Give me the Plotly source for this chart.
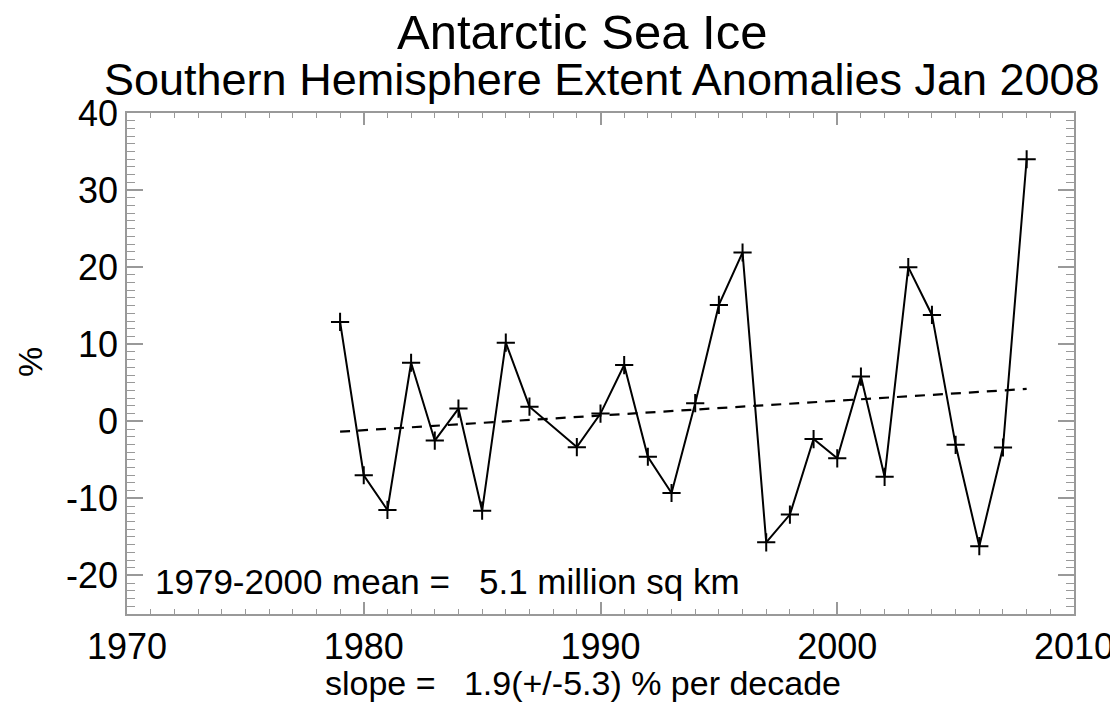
import plotly.graph_objects as go

years = [1979, 1980, 1981, 1982, 1983, 1984, 1985, 1986, 1987, 1989, 1990,
         1991, 1992, 1993, 1994, 1995, 1996, 1997, 1998, 1999, 2000,
         2001, 2002, 2003, 2004, 2005, 2006, 2007, 2008]
anomaly = [12.9, -7.0, -11.5, 7.6, -2.5, 1.65, -11.6, 10.2, 1.9, -3.35, 1.0,
           7.3, -4.6, -9.3, 2.35, 15.1, 21.9, -15.7, -12.1, -2.3, -4.8,
           5.8, -7.2, 20.0, 13.8, -3.05, -16.2, -3.4, 34.0]
trend_years = [1979, 2008]
trend_values = [-1.35, 4.2]

x_ticks = [1970, 1980, 1990, 2000, 2010]
y_ticks = [-20, -10, 0, 10, 20, 30, 40]
y_ticktext = ["-20", "-10", "0", "10", "20", "30", "40"]

FONT = "Liberation Sans, Arial, sans-serif"

fig = go.Figure()
fig.add_trace(go.Scatter(
    x=years, y=anomaly, mode="lines+markers",
    line=dict(color="black", width=2),
    marker=dict(symbol="cross-thin", size=13, line=dict(color="black", width=2)),
    showlegend=False))
fig.add_trace(go.Scatter(
    x=trend_years, y=trend_values, mode="lines",
    line=dict(color="black", width=2.2, dash="10px,8px"),
    showlegend=False))

axis_common = dict(
    showline=True, linecolor="#999999", linewidth=1.5, mirror="allticks",
    ticks="inside", tickcolor="#999999", tickwidth=1.5,
    showgrid=False, zeroline=False, automargin=False,
    tickfont=dict(family=FONT, size=36, color="black"),
)

fig.update_xaxes(range=[1970, 2010], tickvals=x_ticks, ticklen=12,
                 minor=dict(dtick=1, ticks="inside", ticklen=5, tickcolor="#999999", tickwidth=1.2),
                 **axis_common)
fig.update_yaxes(range=[-25, 40], tickvals=y_ticks, ticktext=y_ticktext, ticklen=16,
                 minor=dict(dtick=1, ticks="inside", ticklen=8, tickcolor="#999999", tickwidth=1.2),
                 **axis_common)

fig.add_annotation(text="Antarctic Sea Ice", xref="paper", yref="paper",
                   x=0.4805, y=1.1617, xanchor="center", yanchor="middle", showarrow=False,
                   font=dict(family=FONT, size=49, color="black"))
fig.add_annotation(text="Southern Hemisphere Extent Anomalies Jan 2008", xref="paper", yref="paper",
                   x=0.5016, y=1.066, xanchor="center", yanchor="middle", showarrow=False,
                   font=dict(family=FONT, size=45, color="black"))
fig.add_annotation(text="1979-2000 mean =   5.1 million sq km", xref="paper", yref="paper",
                   x=0.0275, y=0.064, xanchor="left", yanchor="middle", showarrow=False,
                   font=dict(family=FONT, size=35, color="black"))
fig.add_annotation(text="slope =   1.9(+/-5.3) % per decade", xref="paper", yref="paper",
                   x=0.482, y=-0.138, xanchor="center", yanchor="middle", showarrow=False,
                   font=dict(family=FONT, size=34, color="black"))
fig.add_annotation(text="%", xref="paper", yref="paper",
                   x=-0.1024, y=0.503, xanchor="center", yanchor="middle", showarrow=False,
                   textangle=-90,
                   font=dict(family=FONT, size=34, color="black"))

# page body has an 8px default margin; shift margins to compensate
fig.update_layout(
    width=1118, height=706,
    margin=dict(l=119, r=52, t=105, b=100),
    paper_bgcolor="white", plot_bgcolor="white",
    font=dict(family=FONT, color="black"),
)

fig.write_html("out.html")
